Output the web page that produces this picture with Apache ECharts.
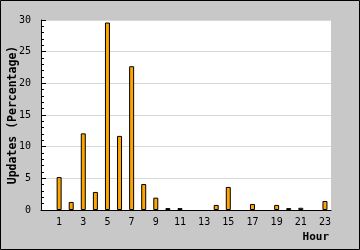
<!DOCTYPE html>
<html><head><meta charset="utf-8">
<script src="https://cdn.jsdelivr.net/npm/echarts@6/dist/echarts.min.js"></script>
<style>html,body{margin:0;padding:0;background:#c8c8c8}#c{width:360px;height:250px}</style>
</head><body><div id="c"></div>
<script>
const hours = ['0','1','2','3','4','5','6','7','8','9','10','11','12','13','14','15','16','17','18','19','20','21','22','23'];
const updates = [0, 5.2, 1.27, 12.1, 2.85, 29.6, 11.7, 22.7, 4.1, 1.95, 0.3, 0.3, 0, 0, 0.8, 3.64, 0, 0.95, 0, 0.8, 0.3, 0.35, 0, 1.42];
const yTitle = 'Updates (Percentage)';
const xTitle = 'Hour';
const mono = '"DejaVu Sans Mono", monospace';
const chart = echarts.init(document.getElementById('c'), null, {renderer:'canvas'});
chart.setOption({
  animation: false,
  backgroundColor: '#c8c8c8',
  grid: {left: 41, right: 29, top: 20, bottom: 40, show: true, backgroundColor: '#ffffff', borderWidth: 0, containLabel: false, outerBoundsMode: 'none'},
  xAxis: {
    type: 'category', data: hours, boundaryGap: true,
    name: xTitle, nameLocation: 'end', nameGap: -2, nameMoveOverlap: false,
    nameTextStyle: {fontFamily: mono, fontWeight: 'bold', fontSize: 11, color: '#000', align: 'right', verticalAlign: 'top', padding: [22,0,0,0]},
    axisLine: {lineStyle: {color: '#000', width: 1}},
    axisTick: {inside: true, length: 4, lineStyle: {color: '#000'}},
    axisLabel: {interval: (i) => i % 2 === 1, fontFamily: mono, fontSize: 10, color: '#000', margin: 7},
    splitLine: {show: false}
  },
  yAxis: {
    type: 'value', min: 0, max: 30, interval: 5,
    name: yTitle, nameLocation: 'middle', nameRotate: 90, nameGap: 22, nameMoveOverlap: false,
    nameTextStyle: {fontFamily: mono, fontWeight: 'bold', fontSize: 11.5, color: '#000', padding: [0,0,0,0]},
    axisLine: {show: true, lineStyle: {color: '#000', width: 1}},
    axisTick: {show: true, inside: true, length: 5, lineStyle: {color: '#000'}},
    minorTick: {show: true, splitNumber: 5, length: 3, lineStyle: {color: '#000'}},
    axisLabel: {fontFamily: mono, fontSize: 10, color: '#000', margin: 10},
    splitLine: {show: true, lineStyle: {color: '#d8d8d8', width: 1}}
  },
  series: [{
    type: 'bar', data: updates.map(v => v === 0 ? null : v), barWidth: 5,
    itemStyle: {color: '#ffa500', borderColor: '#000', borderWidth: 1}
  }],
  graphic: [{type: 'rect', shape: {x: 0.5, y: 0.5, width: 359, height: 249}, style: {fill: 'none', stroke: '#000', lineWidth: 1}, z: 100}]
});
</script></body></html>
